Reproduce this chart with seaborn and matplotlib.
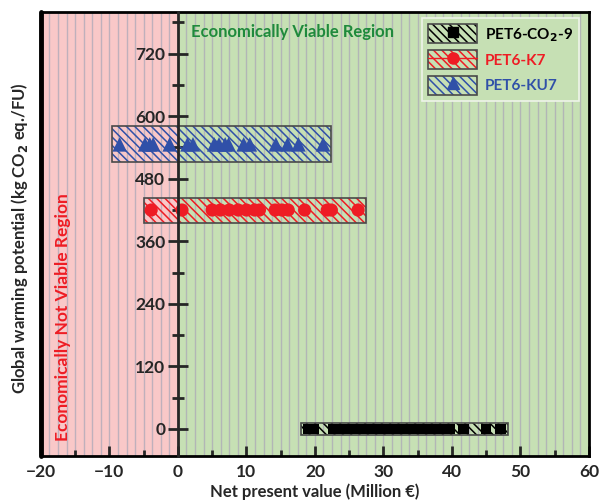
import numpy as np
import pandas as pd
import matplotlib
matplotlib.use("Agg")
import matplotlib.pyplot as plt
from matplotlib.patches import Rectangle, Patch
from matplotlib.lines import Line2D
import seaborn as sns

# ---- data ----
series_names = ["PET6-CO$_2$-9", "PET6-K7", "PET6-KU7"]
series_gwp = [0, 420, 546]
npv_co2 = [19.0, 19.8, 22.6, 23.4, 24.3, 25.2, 26.2, 27.6, 28.9, 29.8, 30.6,
           31.4, 32.2, 33.0, 33.8, 34.7, 36.3, 37.4, 38.6, 39.7, 41.7, 45.0, 47.1]
npv_k7 = [-3.9, 0.6, 5.0, 6.2, 7.5, 8.8, 10.0, 11.2, 11.9, 14.2, 15.2, 16.1,
          18.5, 21.8, 22.4, 26.3]
npv_ku7 = [-8.5, -4.8, -4.1, -3.6, -1.2, 1.4, 2.2, 5.3, 6.0, 6.9, 7.4, 9.6,
           10.5, 14.3, 16.0, 17.6, 21.2]
box_heights = [22, 48, 69]
x_ticks = [-20, -10, 0, 10, 20, 30, 40, 50, 60]
y_ticks = [0, 120, 240, 360, 480, 600, 720]

colors = ["#000000", "#EE1C24", "#3050A8"]
markers = ["s", "o", "^"]
msizes = [55, 90, 110]

sns.set_style("ticks")
plt.rcParams["font.family"] = ["Lato", "DejaVu Sans"]
plt.rcParams["font.weight"] = "bold"
plt.rcParams["hatch.linewidth"] = 1.1

fig = plt.figure(figsize=(6.01, 5.0), dpi=100)
ax = fig.add_axes([0.068, 0.088, 0.912, 0.888])
ax.set_xlim(-20, 60)
ax.set_ylim(-52, 800)

# background regions
ax.axvspan(-20, 0, color="#F9C8C8", zorder=0, lw=0)
ax.axvspan(0, 60, color="#C6E0B4", zorder=0, lw=0)
for gx in np.arange(-20 + 1.25, 60, 1.25):
    ax.axvline(gx, color="#ACA8B8", lw=1.0, alpha=0.75, zorder=0.5)

# long table
frames = []
for name, y, xs in zip(series_names, series_gwp, [npv_co2, npv_k7, npv_ku7]):
    frames.append(pd.DataFrame({"npv": xs, "gwp": [y] * len(xs), "series": name}))
df = pd.concat(frames, ignore_index=True)

# hatched boxes spanning each series
pad = 1.1
for name, y, xs, h, c in zip(series_names, series_gwp, [npv_co2, npv_k7, npv_ku7], box_heights, colors):
    x0, x1 = min(xs) - pad, max(xs) + pad
    ax.add_patch(Rectangle((x0, y - h / 2), x1 - x0, h, facecolor="none",
                           edgecolor=c, hatch="\\\\\\\\", lw=0, zorder=2))
    ax.add_patch(Rectangle((x0, y - h / 2), x1 - x0, h, facecolor="none",
                           edgecolor="#4A4A4A", lw=1.2, zorder=3))

sns.scatterplot(data=df, x="npv", y="gwp", hue="series", style="series",
                palette=dict(zip(series_names, colors)),
                markers=dict(zip(series_names, markers)),
                size="series", sizes=dict(zip(series_names, msizes)),
                edgecolor="none", linewidth=0, legend=False, ax=ax, zorder=4)

# axes styling
for s in ["top", "right", "bottom"]:
    ax.spines[s].set_linewidth(2)
    ax.spines[s].set_color("black")
ax.spines["left"].set_position(("data", 0))
ax.spines["left"].set_linewidth(2)
ax.spines["left"].set_zorder(5)
ax.axvline(-20, color="black", lw=3.5, clip_on=False, zorder=6)

ax.set_xticks(x_ticks)
ax.set_yticks(y_ticks)
ax.set_xticks(np.arange(-15, 60, 10), minor=True)
ax.set_yticks(np.arange(60, 800, 120), minor=True)
ax.tick_params(axis="x", which="major", direction="in", length=7, width=2,
               labelsize=12.5, pad=6)
ax.tick_params(axis="x", which="minor", direction="in", length=4, width=2)
ax.tick_params(axis="y", which="major", direction="inout", length=14, width=2,
               labelsize=12.5, pad=2)
ax.tick_params(axis="y", which="minor", direction="inout", length=8, width=2)
for lab in ax.get_xticklabels() + ax.get_yticklabels():
    lab.set_fontweight("bold")

ax.set_xlabel("Net present value (Million €)", fontsize=12, fontweight="bold", labelpad=2)
ax.set_ylabel("")
fig.text(0.033, (500 - 238) / 500, "Global warming potential (kg CO$_2$ eq./FU)",
         rotation=90, ha="center", va="center", fontsize=12, fontweight="bold")

# region labels
ax.text(1.9, 762, "Economically Viable Region", color="#1F8A3C", fontsize=12,
        fontweight="bold", ha="left", va="center", zorder=7)
ax.text(-16.8, 214, "Economically Not Viable Region", color="#EE1C24", fontsize=12.5,
        fontweight="bold", rotation=90, ha="center", va="center", zorder=7)

# legend
handles = []
for c, m in zip(colors, markers):
    p = Patch(facecolor="none", edgecolor=c, hatch="\\\\\\\\", lw=0)
    b = Patch(facecolor="none", edgecolor="#4A4A4A", lw=1.2)
    ln = Line2D([], [], color=c, marker=m, markersize=8 if m != "s" else 7,
                lw=1 if m == "o" else 0)
    handles.append((p, b, ln))
leg = ax.legend(handles, series_names, loc="upper right", bbox_to_anchor=(0.99, 0.996),
                frameon=True, fontsize=11, handlelength=3.2, handleheight=1.5,
                borderpad=0.4, labelspacing=0.45, handletextpad=0.5,
                borderaxespad=0.3, fancybox=False)
leg.get_frame().set_facecolor("#C6E0B4")
leg.get_frame().set_edgecolor("#EEF4EA")
leg.get_frame().set_linewidth(1.2)
leg.get_frame().set_alpha(1)
leg.set_zorder(8)
for t, c in zip(leg.get_texts(), colors):
    t.set_color(c)
    t.set_fontweight("bold")

fig.savefig("out.png", dpi=100)
